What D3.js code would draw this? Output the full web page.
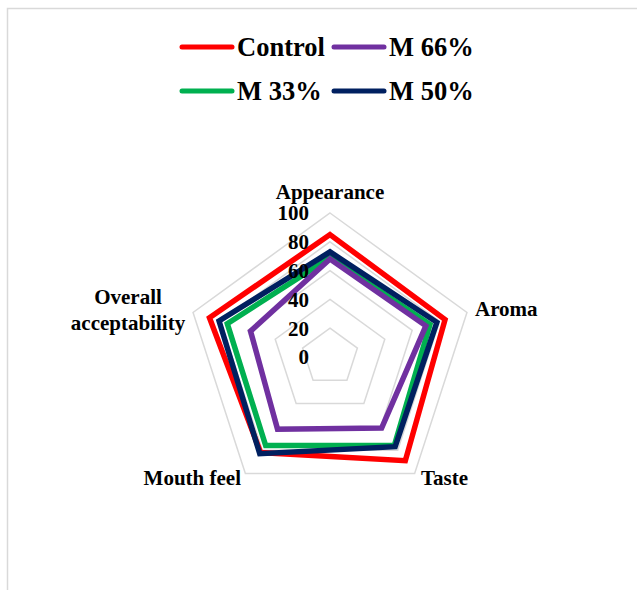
<!DOCTYPE html>
<html>
<head>
<meta charset="utf-8">
<script src="https://d3js.org/d3.v7.min.js"></script>
<style>
body { margin: 0; background: #fff; }
text { font-family: "Liberation Serif", "Times New Roman", serif; font-weight: bold; fill: #000; }
.grid { fill: none; stroke: #d9d9d9; stroke-width: 1.5px; }
.series { fill: none; stroke-width: 5.5px; stroke-linejoin: miter; }
</style>
</head>
<body>
<script>

var width = 637,
    height = 590,
    cx = 330,
    cy = 357,
    radius = 144;

// axes, clockwise from the top
var axes = ["Appearance", "Aroma", "Taste", "Mouth feel", "Overall acceptability"];
var ticks = [0, 20, 40, 60, 80, 100];

// series values, in axis order
var control = [85, 84, 89, 82, 88];
var m33 = [69, 73, 76, 76, 75];
var m66 = [68, 70, 61, 62, 58];
var m50 = [73, 78, 77, 83, 81];

var series = [
  { name: "Control", values: control, color: "#ff0000" },
  { name: "M 33%", values: m33, color: "#00b050" },
  { name: "M 66%", values: m66, color: "#7030a0" },
  { name: "M 50%", values: m50, color: "#002060" }
];
var legendOrder = ["Control", "M 66%", "M 33%", "M 50%"];

var svg = d3.select("body").append("svg")
  .attr("width", width)
  .attr("height", height);

// chart frame, runs off the right and bottom edges
svg.append("rect")
  .attr("x", 7.5).attr("y", 8.5)
  .attr("width", 700).attr("height", 700)
  .attr("fill", "none")
  .attr("stroke", "#d9d9d9")
  .attr("stroke-width", 1.5);

var r = d3.scaleLinear().domain([0, 100]).range([0, radius]);
var angle = d3.scaleLinear().domain([0, axes.length]).range([0, 2 * Math.PI]);

var line = d3.lineRadial()
  .angle(function(d, i) { return angle(i); })
  .radius(function(d) { return r(d); })
  .curve(d3.curveLinearClosed);

var g = svg.append("g").attr("transform", "translate(" + cx + "," + cy + ")");

// rings
g.selectAll("path.grid")
  .data(ticks.filter(function(t) { return t > 0; }))
  .enter().append("path")
  .attr("class", "grid")
  .attr("d", function(t) { return line(axes.map(function() { return t; })); });

// series
g.selectAll("path.series")
  .data(series)
  .enter().append("path")
  .attr("class", "series")
  .attr("stroke", function(d) { return d.color; })
  .attr("d", function(d) { return line(d.values); });

// tick labels
g.selectAll("text.tick")
  .data(ticks)
  .enter().append("text")
  .attr("class", "tick")
  .attr("x", -21)
  .attr("y", function(t) { return -r(t); })
  .attr("dy", "0.35em")
  .attr("text-anchor", "end")
  .style("font-size", "21px")
  .text(function(t) { return t; });

// axis labels
var labelPos = [
  { x: 0, y: -158, anchor: "middle" },
  { x: 145, y: -41, anchor: "start" },
  { x: 91, y: 128, anchor: "start" },
  { x: -89, y: 128, anchor: "end" },
  { x: -202, y: -53, anchor: "middle" }
];

axes.forEach(function(name, i) {
  var p = labelPos[i];
  var t = g.append("text")
    .attr("x", p.x)
    .attr("y", p.y)
    .attr("text-anchor", p.anchor)
    .style("font-size", "21px");
  var words = name === "Overall acceptability" ? ["Overall", "acceptability"] : [name];
  words.forEach(function(w, j) {
    t.append("tspan").attr("x", p.x).attr("dy", j === 0 ? 0 : 26).text(w);
  });
});

// legend
var legend = svg.append("g");
var byName = {};
series.forEach(function(s) { byName[s.name] = s; });

legendOrder.forEach(function(name, i) {
  var s = byName[name];
  var lx = 182 + (i % 2) * 152,
      ly = 47 + Math.floor(i / 2) * 44;
  legend.append("line")
    .attr("x1", lx).attr("x2", lx + 50)
    .attr("y1", ly).attr("y2", ly)
    .attr("stroke", s.color)
    .attr("stroke-width", 5)
    .attr("stroke-linecap", "round");
  legend.append("text")
    .attr("x", lx + 55)
    .attr("y", ly + 9)
    .style("font-size", "26.5px")
    .text(name);
});

</script>
</body>
</html>
